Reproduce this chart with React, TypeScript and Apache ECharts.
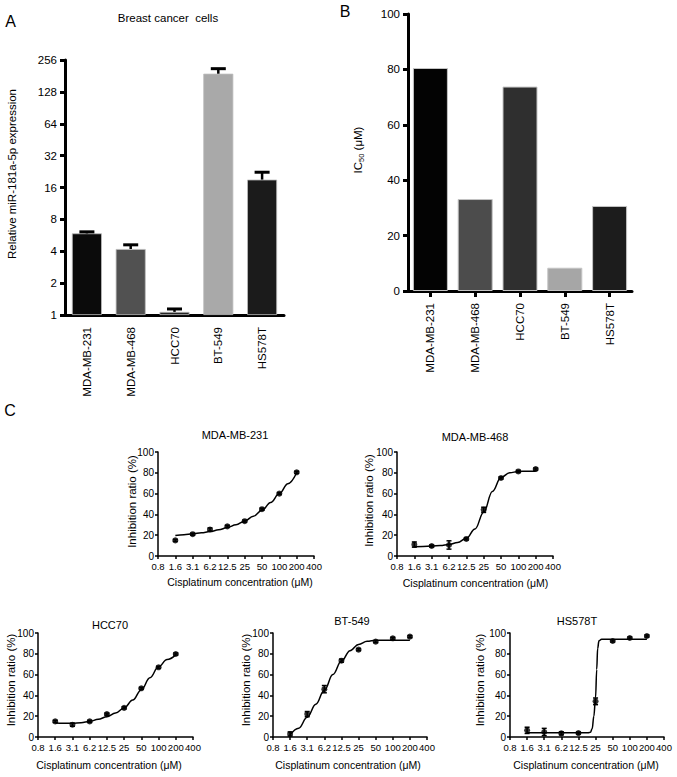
import React, { useEffect, useRef } from "react";
import * as echarts from "echarts";

const FONT = "'Liberation Sans', Arial, Helvetica, sans-serif";

// Panel A / B categories
const cellLines = ["MDA-MB-231", "MDA-MB-468", "HCC70", "BT-549", "HS578T"];
// Panel A: relative miR-181a-5p expression (log2 axis)
const mirExpression = [5.9, 4.2, 1.07, 190, 19];
const mirError = [0.2, 0.4, 0.07, 22, 3.3];
const mirColors = ["#0b0b0b", "#515151", "#262626", "#a9a9a9", "#1b1b1b"];
// Panel B: IC50 (μM)
const ic50 = [80.5, 33.2, 73.8, 8.4, 30.7];
const ic50Colors = ["#030303", "#4c4c4c", "#2f2f2f", "#a6a6a6", "#1c1c1c"];

// Panel C: dose-response
const concLabels = ["0.8", "1.6", "3.1", "6.2", "12.5", "25", "50", "100", "200", "400"];
const concBase = 0.78125;
const doses = [1.5625, 3.125, 6.25, 12.5, 25, 50, 100, 200];

const inhib231 = [15, 21, 25.5, 28.5, 33.5, 45, 60, 80.5];
const err231 = [1, 1, 1.5, 1, 1, 1, 1, 1];
const inhib468 = [11, 9.6, 10.6, 16.4, 44.4, 75, 81.3, 83.6];
const err468 = [2.5, 1, 4, 1, 2.5, 1, 1, 1];
const inhibHCC70 = [15, 11.8, 15, 22, 28, 46.8, 67, 79.8];
const errHCC70 = [1, 1.5, 1, 1, 1, 1, 1, 1];
const inhibBT549 = [2.9, 22, 46, 73.4, 84, 91.7, 94.9, 96.5];
const errBT549 = [2, 2.5, 3.5, 1.5, 1, 1, 1, 1];
const inhibHS578T = [6.4, 4.8, 3.5, 3.8, 34.3, 92.3, 95.2, 97.1];
const errHS578T = [3, 3.5, 1.5, 1, 3.2, 1, 1, 1];

// fitted curves
const fitDoses = [1.5625, 2.21, 3.125, 4.42, 6.25, 8.84, 12.5, 17.7, 25, 35.4, 50, 70.7, 100, 141, 200];
const fit231 = [19.8, 20.5, 21.3, 22.3, 23.5, 25.2, 27.3, 30, 33.5, 38.3, 44, 51.5, 60, 69.5, 80];
const fit468 = [9, 9.2, 9.5, 10, 11, 13, 17, 26, 42, 62, 75.5, 80, 81.3, 81.5, 81.6];
const fitHCC70 = [13.5, 13.2, 13.3, 13.8, 15, 17, 19.5, 23, 28, 35.5, 45.5, 57, 67.5, 74.5, 79];
const fitBT549 = [2, 8.5, 19, 31.5, 45, 60, 73, 83, 89, 92, 93, 93, 93, 93, 93];
const fitDosesHS = [1.5625, 3.125, 6.25, 12.5, 18.4, 20.3, 21.8, 23.3, 25, 26.2, 27.2, 28.7, 31.9, 50, 100, 200];
const fitHS578T = [4, 4, 4, 4, 4, 4.5, 8, 20, 38, 65, 85, 92.5, 94, 94, 94, 94];

const logPos = (c: number) => Math.log2(c / concBase);

const curves = [
  { name: "MDA-MB-231", vals: inhib231, err: err231, fx: fitDoses, fy: fit231 },
  { name: "MDA-MB-468", vals: inhib468, err: err468, fx: fitDoses, fy: fit468 },
  { name: "HCC70", vals: inhibHCC70, err: errHCC70, fx: fitDoses, fy: fitHCC70 },
  { name: "BT-549", vals: inhibBT549, err: errBT549, fx: fitDoses, fy: fitBT549 },
  { name: "HS578T", vals: inhibHS578T, err: errHS578T, fx: fitDosesHS, fy: fitHS578T },
];

function buildOption() {
  const grids = [
    { left: 65, top: 60, width: 219, height: 255 },
    { left: 408, top: 14, width: 224, height: 277 },
    { left: 158, top: 452, width: 156, height: 104 },
    { left: 397, top: 452, width: 156, height: 104 },
    { left: 38, top: 633, width: 155, height: 104 },
    { left: 273, top: 633, width: 154, height: 104 },
    { left: 510, top: 633, width: 154, height: 104 },
  ];

  const thickLine = { show: true, lineStyle: { color: "#000", width: 3 } };
  const thinLine = { show: true, lineStyle: { color: "#000", width: 1.5 } };

  const xAxis: any[] = [
    {
      gridIndex: 0,
      type: "category",
      data: cellLines,
      boundaryGap: true,
      axisLine: thickLine,
      axisTick: { show: false },
      axisLabel: { rotate: 90, margin: 12, fontSize: 11.5, color: "#000", fontFamily: FONT },
      splitLine: { show: false },
    },
    {
      gridIndex: 1,
      type: "category",
      data: cellLines,
      boundaryGap: true,
      axisLine: thickLine,
      axisTick: { show: true, alignWithLabel: true, length: 6, lineStyle: { color: "#000", width: 3 } },
      axisLabel: { rotate: 90, margin: 12, fontSize: 11.5, color: "#000", fontFamily: FONT },
      splitLine: { show: false },
    },
  ];
  const yAxis: any[] = [
    {
      gridIndex: 0,
      type: "log",
      logBase: 2,
      min: 1,
      max: 256,
      splitNumber: 8,
      axisLine: thickLine,
      axisTick: { show: true, length: 5, lineStyle: { color: "#000", width: 3 } },
      axisLabel: { margin: 8, fontSize: 11.5, color: "#000", fontFamily: FONT },
      splitLine: { show: false },
      minorTick: { show: false },
    },
    {
      gridIndex: 1,
      type: "value",
      min: 0,
      max: 100,
      interval: 20,
      axisLine: thickLine,
      axisTick: { show: true, length: 5, lineStyle: { color: "#000", width: 3 } },
      axisLabel: { margin: 8, fontSize: 11.5, color: "#000", fontFamily: FONT },
      splitLine: { show: false },
    },
  ];

  for (let k = 0; k < 5; k++) {
    xAxis.push({
      gridIndex: k + 2,
      type: "value",
      min: 0,
      max: 9,
      interval: 1,
      axisLine: thinLine,
      axisTick: { show: true, length: 3, lineStyle: { color: "#000", width: 1.5 } },
      axisLabel: {
        margin: 5,
        fontSize: 9.5,
        color: "#000",
        fontFamily: FONT,
        showMinLabel: true,
        showMaxLabel: true,
        formatter: (v: number) => concLabels[Math.round(v)] ?? "",
      },
      splitLine: { show: false },
    });
    yAxis.push({
      gridIndex: k + 2,
      type: "value",
      min: 0,
      max: 100,
      interval: 20,
      axisLine: thinLine,
      axisTick: { show: true, length: 3, lineStyle: { color: "#000", width: 1.5 } },
      axisLabel: { margin: 4, fontSize: 10, color: "#000", fontFamily: FONT },
      splitLine: { show: false },
    });
  }

  const series: any[] = [
    {
      type: "bar",
      xAxisIndex: 0,
      yAxisIndex: 0,
      barWidth: 30,
      data: mirExpression.map((v, i) => ({
        value: v,
        itemStyle: { color: mirColors[i], borderColor: "#bdbdbd", borderWidth: 0.8 },
      })),
    },
    {
      type: "custom",
      xAxisIndex: 0,
      yAxisIndex: 0,
      data: mirExpression.map((v, i) => [i, v, v + mirError[i]]),
      encode: { x: 0, y: [1, 2] },
      z: 5,
      renderItem: (params: any, api: any) => {
        const x = api.value(0);
        const base = api.coord([x, api.value(1)]);
        const top = api.coord([x, api.value(2)]);
        const hw = 7.5;
        return {
          type: "group",
          children: [
            { type: "line", shape: { x1: top[0], y1: base[1], x2: top[0], y2: top[1] }, style: { stroke: "#000", lineWidth: 2.5 } },
            { type: "line", shape: { x1: top[0] - hw, y1: top[1], x2: top[0] + hw, y2: top[1] }, style: { stroke: "#000", lineWidth: 3 } },
          ],
        };
      },
    },
    {
      type: "bar",
      xAxisIndex: 1,
      yAxisIndex: 1,
      barWidth: 35,
      data: ic50.map((v, i) => ({
        value: v,
        itemStyle: { color: ic50Colors[i], borderColor: "#c4c4c4", borderWidth: 1 },
      })),
    },
  ];

  curves.forEach((c, k) => {
    const ax = k + 2;
    series.push({
      type: "line",
      xAxisIndex: ax,
      yAxisIndex: ax,
      data: c.fx.map((d, i) => [logPos(d), c.fy[i]]),
      showSymbol: false,
      smooth: 0.4,
      smoothMonotone: "x",
      lineStyle: { color: "#000", width: 1.5 },
      z: 3,
    });
    series.push({
      type: "custom",
      xAxisIndex: ax,
      yAxisIndex: ax,
      data: doses.map((d, i) => [logPos(d), c.vals[i] - c.err[i], c.vals[i] + c.err[i]]),
      encode: { x: 0, y: [1, 2] },
      z: 4,
      renderItem: (params: any, api: any) => {
        const x = api.value(0);
        const lo = api.coord([x, api.value(1)]);
        const hi = api.coord([x, api.value(2)]);
        const hw = 2.5;
        const st = { stroke: "#000", lineWidth: 1.5 };
        return {
          type: "group",
          children: [
            { type: "line", shape: { x1: lo[0], y1: lo[1], x2: hi[0], y2: hi[1] }, style: st },
            { type: "line", shape: { x1: lo[0] - hw, y1: lo[1], x2: lo[0] + hw, y2: lo[1] }, style: st },
            { type: "line", shape: { x1: hi[0] - hw, y1: hi[1], x2: hi[0] + hw, y2: hi[1] }, style: st },
          ],
        };
      },
    });
    series.push({
      type: "scatter",
      xAxisIndex: ax,
      yAxisIndex: ax,
      data: doses.map((d, i) => [logPos(d), c.vals[i]]),
      symbol: "circle",
      symbolSize: 6,
      itemStyle: { color: "#000" },
      z: 5,
    });
  });

  const txt = (text: string, x: number, y: number, fontSize: number, rotate = false, extra: any = {}) => ({
    type: "text",
    x,
    y,
    rotation: rotate ? Math.PI / 2 : 0,
    style: {
      text,
      fontSize,
      fontFamily: FONT,
      fill: "#000",
      align: "center",
      verticalAlign: "middle",
      textAlign: "center",
      textVerticalAlign: "middle",
      ...extra,
    },
  });

  const graphic: any[] = [
    txt("A", 10.5, 21, 16),
    txt("B", 345, 11, 16),
    txt("C", 10, 410, 16),
    txt("Breast cancer  cells", 168, 17.5, 11.5),
    txt("Relative miR-181a-5p expression", 12, 174, 11.5, true),
    txt("{a|IC}{b|50}{a| (μM)}", 358, 150, 11.5, true, {
      rich: {
        a: { fontSize: 11.5, fontFamily: FONT, fill: "#000", lineHeight: 14 },
        b: { fontSize: 7.5, fontFamily: FONT, fill: "#000", verticalAlign: "bottom", lineHeight: 14 },
      },
    }),
    // panel C titles
    txt("MDA-MB-231", 235, 435, 11),
    txt("MDA-MB-468", 475, 437, 11),
    txt("HCC70", 110, 625, 11),
    txt("BT-549", 352, 621, 11),
    txt("HS578T", 577, 621, 11),
    // y names
    txt("Inhibition ratio (%)", 131.5, 501.5, 11.5, true),
    txt("Inhibition ratio (%)", 368.5, 500.5, 11.5, true),
    txt("Inhibition ratio (%)", 11, 680, 11.5, true),
    txt("Inhibition ratio (%)", 246, 680, 11.5, true),
    txt("Inhibition ratio (%)", 479.5, 680, 11.5, true),
    // x names
    txt("Cisplatinum concentration (μM)", 240, 582, 10.5),
    txt("Cisplatinum concentration (μM)", 475.5, 583, 10.5),
    txt("Cisplatinum concentration (μM)", 109, 765, 10.5),
    txt("Cisplatinum concentration (μM)", 348, 765, 10.5),
    txt("Cisplatinum concentration (μM)", 586, 765, 10.5),
  ];

  return {
    animation: false,
    backgroundColor: "#fff",
    textStyle: { fontFamily: FONT },
    grid: grids.map((g) => ({ ...g, containLabel: false })),
    xAxis,
    yAxis,
    series,
    graphic,
  };
}

export default function App() {
  const ref = useRef<HTMLDivElement>(null);
  useEffect(() => {
    if (!ref.current) return;
    const chart = echarts.init(ref.current, null, { renderer: "svg" });
    chart.setOption(buildOption() as any);
    return () => chart.dispose();
  }, []);
  return (
    <div
      ref={ref}
      style={{ position: "absolute", left: 0, top: 0, width: 677, height: 777, background: "#fff" }}
    />
  );
}
